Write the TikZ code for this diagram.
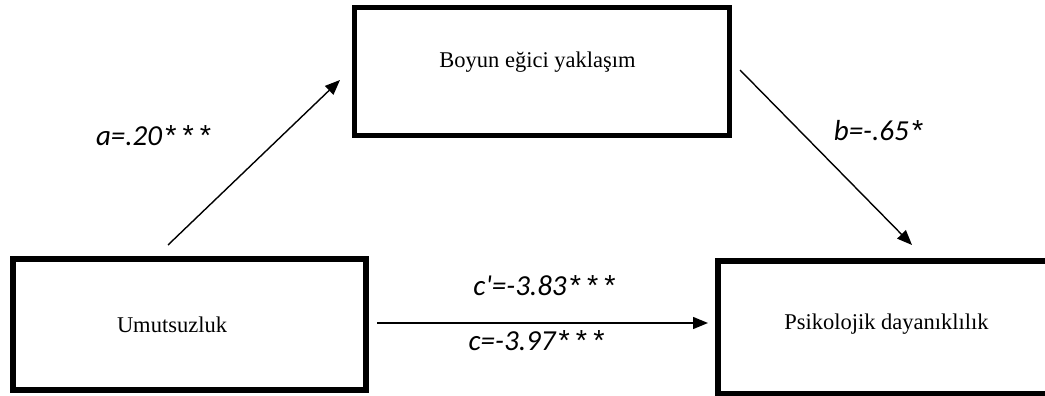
\documentclass[tikz,border=0pt]{standalone}
\usepackage{fontspec}
\setmainfont{Liberation Serif}
\newfontfamily\lblfont{Carlito}
\newfontfamily\starfont{Liberation Sans}
\usetikzlibrary{arrows.meta}
\newcommand{\starz}{\kern2pt{\starfont\itshape *}\kern4pt}
\begin{document}
\begin{tikzpicture}[x=1pt,y=-1pt,
  box/.style={draw=black,rectangle,inner sep=0pt},
  boxtext/.style={anchor=base,inner sep=0pt,font=\fontsize{22.5}{26}\selectfont},
  coef/.style={anchor=base,inner sep=0pt,font=\lblfont\itshape\fontsize{29}{33}\selectfont},
  arr/.style={line width=1.4pt,-{Triangle[length=15pt,width=12pt]}}]
\clip (0,0) rectangle (1045,396);
\fill[white] (0,0) rectangle (1045,396);
% boxes
\draw[box,line width=6pt] (13,259) rectangle (366,390);
\draw[box,line width=5pt] (354.5,7.5) rectangle (729.5,135.5);
\draw[box,line width=6pt] (718,261) rectangle (1060,393.5);
% box texts
\node[boxtext] (umut) at (172,332) {Umutsuzluk};
\node[boxtext] (boyun) at (537.5,68) {Boyun eğici yaklaşım};
\node[boxtext] (psiko) at (886.5,329) {Psikolojik dayanıklılık};
% connector end points
\coordinate (a1) at (168,245);
\coordinate (a2) at (340,80);
\coordinate (b1) at (740,70);
\coordinate (b2) at (912,245);
\coordinate (c1) at (377,323);
\coordinate (c2) at (708,323);
\draw[arr] (a1) -- (a2);
\draw[arr] (b1) -- (b2);
\draw[arr] (c1) -- (c2);
% coefficients
\node[coef] (la) at (155,146) {a=.20\starz\starz\starz};
\node[coef] (lb) at (880,140) {b=-.65\starz};
\node[coef] (lc1) at (546,295) {c'=-3.83\starz\starz\starz};
\node[coef] (lc2) at (538,350) {c=-3.97\starz\starz\starz};
\end{tikzpicture}
\end{document}
